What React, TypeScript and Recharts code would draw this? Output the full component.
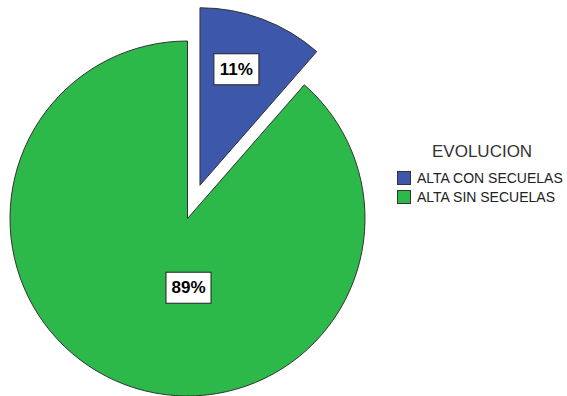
import { PieChart, Pie, Cell, Legend } from 'recharts';

document.body.style.margin = '0';

const categories = ['ALTA CON SECUELAS', 'ALTA SIN SECUELAS'];
const values = [4, 31];
const colors = ['#3D57AB', '#2DB84A'];

const data = categories.map((name, i) => ({ name, value: values[i] }));

const RADIAN = Math.PI / 180;
const CX = 187.5;
const CY = 218.5;
const R = 177.5;
const EXPLODE = 35.5;

// blue slice mid-angle, measured clockwise from 12 o'clock
const blueMid = ((values[0] / (values[0] + values[1])) * 360) / 2;
const blueCx = CX + EXPLODE * Math.sin(blueMid * RADIAN);
const blueCy = CY - EXPLODE * Math.cos(blueMid * RADIAN);

function LabelBox({ x, y, text }: { x: number; y: number; text: string }) {
  return (
    <g>
      <rect x={x - 22.5} y={y - 15.5} width={45} height={31} fill="#fff" stroke="#222" strokeWidth={1} />
      <text
        x={x}
        y={y + 1}
        textAnchor="middle"
        dominantBaseline="middle"
        fontFamily="Arial, 'Liberation Sans', sans-serif"
        fontWeight="bold"
        fontSize={17}
        fill="#000"
      >
        {text}
      </text>
    </g>
  );
}

const renderLabel = (only: number) => (props: any) => {
  const { cx, cy, midAngle, outerRadius, index, percent } = props;
  if (index !== only) return null;
  const text = `${Math.round(percent * 100)}%`;
  if (index === 0) {
    const r = outerRadius * 0.68;
    const x = cx + r * Math.cos(-midAngle * RADIAN) - 6;
    const y = cy + r * Math.sin(-midAngle * RADIAN) - 3;
    return <LabelBox x={x} y={y} text={text} />;
  }
  return <LabelBox x={cx + 1} y={cy + outerRadius * 0.39} text={text} />;
};

function LegendContent() {
  return (
    <div style={{ fontFamily: "Arial, 'Liberation Sans', sans-serif", color: '#222' }}>
      <div style={{ fontSize: 17, marginLeft: 35, marginBottom: 6, color: '#333', lineHeight: '20px' }}>
        EVOLUCION
      </div>
      {categories.map((c, i) => (
        <div key={c} style={{ display: 'flex', alignItems: 'center', height: 19 }}>
          <span
            style={{
              display: 'inline-block',
              width: 12,
              height: 12,
              background: colors[i],
              border: '1px solid #333',
              marginRight: 6,
            }}
          />
          <span style={{ fontSize: 14 }}>{c}</span>
        </div>
      ))}
    </div>
  );
}

export default function App() {
  return (
    <PieChart width={567} height={396} margin={{ top: 0, right: 0, bottom: 0, left: 0 }}>
      <Pie
        data={data}
        dataKey="value"
        nameKey="name"
        cx={CX}
        cy={CY}
        outerRadius={R}
        startAngle={90}
        endAngle={-270}
        label={renderLabel(1)}
        labelLine={false}
        isAnimationActive={false}
      >
        {data.map((d, i) => (
          <Cell
            key={d.name}
            fill={i === 1 ? colors[1] : 'none'}
            stroke={i === 1 ? '#333' : 'none'}
            strokeWidth={1}
          />
        ))}
      </Pie>
      <Pie
        data={data}
        dataKey="value"
        nameKey="name"
        cx={blueCx}
        cy={blueCy}
        outerRadius={R}
        startAngle={90}
        endAngle={-270}
        label={renderLabel(0)}
        labelLine={false}
        isAnimationActive={false}
      >
        {data.map((d, i) => (
          <Cell
            key={d.name}
            fill={i === 0 ? colors[0] : 'none'}
            stroke={i === 0 ? '#333' : 'none'}
            strokeWidth={1}
          />
        ))}
      </Pie>
      <Legend
        layout="vertical"
        content={<LegendContent />}
        wrapperStyle={{ left: 397, top: 142, width: 170 }}
      />
    </PieChart>
  );
}
